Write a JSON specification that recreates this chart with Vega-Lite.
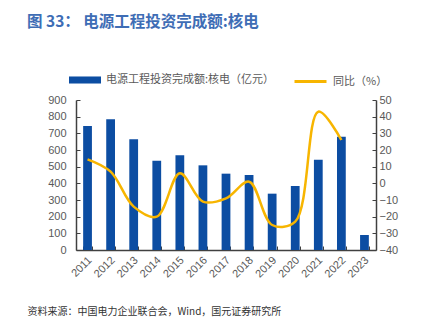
{
  "$schema": "https://vega.github.io/schema/vega-lite/v6.json",
  "width": 300,
  "height": 150,
  "autosize": {"type": "none"},
  "padding": {"left": 76, "top": 100, "right": 66, "bottom": 74},
  "background": "white",
  "title": {
    "text": "图 33： 电源工程投资完成额:核电",
    "anchor": "start",
    "frame": "group",
    "dx": -49,
    "offset": 34,
    "font": "Noto Sans CJK SC",
    "fontSize": 15.5,
    "fontWeight": "bold",
    "color": "#3E6DB5"
  },
  "data": {
    "values": [
      {"year": "2011", "inv": 744, "yoy": 14.4},
      {"year": "2012", "inv": 784, "yoy": 7},
      {"year": "2013", "inv": 664, "yoy": -14},
      {"year": "2014", "inv": 536, "yoy": -20},
      {"year": "2015", "inv": 568, "yoy": 6},
      {"year": "2016", "inv": 508, "yoy": -11},
      {"year": "2017", "inv": 458, "yoy": -9},
      {"year": "2018", "inv": 450, "yoy": 1},
      {"year": "2019", "inv": 338, "yoy": -25},
      {"year": "2020", "inv": 384, "yoy": -23},
      {"year": "2021", "inv": 542, "yoy": 43},
      {"year": "2022", "inv": 680, "yoy": 26},
      {"year": "2023", "inv": 90, "yoy": null}
    ]
  },
  "encoding": {
    "x": {
      "field": "year",
      "type": "ordinal",
      "scale": {"paddingInner": 0.62, "paddingOuter": 0.31},
      "axis": {
        "title": "资料来源：中国电力企业联合会，Wind，国元证券研究所",
        "titleX": -49,
        "titleY": 61,
        "titleAlign": "left",
        "titleBaseline": "middle",
        "titleFont": "Noto Sans CJK SC",
        "titleFontSize": 10,
        "titleFontWeight": "normal",
        "titleColor": "#333333",
        "labelAngle": -45,
        "labelFont": "Liberation Sans",
        "labelFontSize": 11,
        "labelColor": "#595959",
        "labelPadding": 8,
        "labelOffset": -2,
        "tickBand": "extent",
        "tickSize": -4,
        "tickColor": "#404040",
        "domainColor": "#404040",
        "domainWidth": 1.5
      }
    }
  },
  "layer": [
    {
      "mark": {"type": "bar", "color": "#0C4DA2"},
      "encoding": {
        "y": {
          "field": "inv",
          "type": "quantitative",
          "scale": {"domain": [0, 900]},
          "axis": {
            "title": null,
            "values": [0, 100, 200, 300, 400, 500, 600, 700, 800, 900],
            "grid": false,
            "tickSize": -4,
            "labelPadding": 14,
            "labelFont": "Liberation Sans",
            "labelFontSize": 11,
            "labelColor": "#595959",
            "tickColor": "#404040",
            "domainColor": "#404040",
            "domainWidth": 1.5
          }
        },
        "color": {
          "datum": "电源工程投资完成额:核电（亿元）",
          "type": "nominal",
          "scale": {"range": ["#0C4DA2"]},
          "legend": {
            "title": null,
            "orient": "none",
            "legendX": -7,
            "legendY": -36,
            "symbolType": "M-1,-0.22H1V0.22H-1Z",
            "symbolSize": 1024,
            "symbolStrokeWidth": 0,
            "labelFont": "Noto Sans CJK SC",
            "labelFontSize": 11,
            "labelColor": "#595959",
            "labelOffset": 5,
            "labelLimit": 400
          }
        }
      }
    },
    {
      "mark": {"type": "line", "interpolate": "catmull-rom", "strokeWidth": 2.5},
      "transform": [{"filter": "datum.yoy != null"}],
      "encoding": {
        "y": {
          "field": "yoy",
          "type": "quantitative",
          "scale": {"domain": [-40, 50]},
          "axis": {
            "title": null,
            "orient": "right",
            "values": [-40, -30, -20, -10, 0, 10, 20, 30, 40, 50],
            "grid": false,
            "tickSize": -4,
            "labelPadding": 7,
            "labelFont": "Liberation Sans",
            "labelFontSize": 11,
            "labelColor": "#595959",
            "tickColor": "#404040",
            "domainColor": "#404040",
            "domainWidth": 1.5
          }
        },
        "stroke": {
          "datum": "同比（%）",
          "type": "nominal",
          "scale": {"range": ["#F7B500"]},
          "legend": {
            "title": null,
            "orient": "none",
            "legendX": 217,
            "legendY": -36,
            "symbolType": "stroke",
            "symbolSize": 1024,
            "symbolStrokeWidth": 3,
            "labelFont": "Noto Sans CJK SC",
            "labelFontSize": 11,
            "labelColor": "#595959",
            "labelOffset": 5,
            "labelLimit": 200
          }
        }
      }
    }
  ],
  "resolve": {"scale": {"y": "independent"}},
  "config": {"view": {"stroke": null}}
}
